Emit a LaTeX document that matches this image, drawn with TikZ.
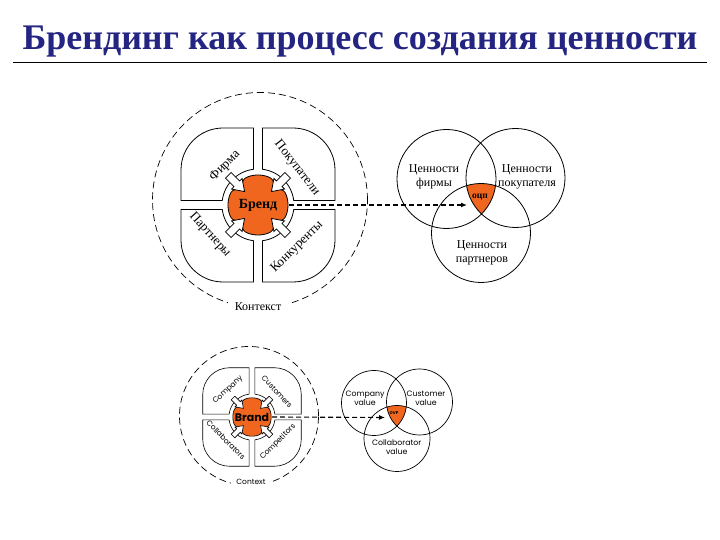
\documentclass[tikz,border=0pt]{standalone}
\usepackage{fontspec}
\setmainfont{Liberation Serif}
\newfontfamily\pop{Poppins}
\usetikzlibrary{arrows.meta}
\definecolor{brandorange}{RGB}{240,102,30}
\definecolor{titleblue}{RGB}{36,36,130}
\def\emblw{0.8pt}
\begin{document}
\begin{tikzpicture}[x=1pt,y=1pt,
  quad/.style={draw=black, fill=white, line width=\emblw},
  arr/.style={draw=black, fill=white, line width=\emblw},
  blob/.style={draw=black, fill=brandorange, line width=\emblw},
  ring/.style={draw=black, circle, inner sep=0pt, line width=0.7pt, dash pattern=on 7pt off 4pt},
  link/.style={draw=black, line width=1.3pt, dash pattern=on 5pt off 3pt, -{Latex[length=6pt,width=5pt]}},
  venn/.style={draw=black, line width=0.8pt},
  rulab/.style={font=\fontsize{13}{15}\selectfont, inner sep=0pt},
  ruvenn/.style={font=\fontsize{12}{13.5}\selectfont, align=center, inner sep=0pt},
  enlab/.style={font=\pop\fontsize{7.5}{9}\selectfont, inner sep=0pt},
  envenn/.style={font=\pop\fontsize{7.8}{9}\selectfont, align=center, inner sep=0pt},
  emblem/.pic={
    \foreach \a in {0,90,180,270}{
      \path[quad, rotate=\a] (4.5,35.72) -- (4.5,77) -- (35,77)
        arc[start angle=90,end angle=0,radius=42] -- (77,35) -- (77,4.5)
        -- (35.72,4.5) arc[start angle=7.18,end angle=82.82,radius=36] -- cycle;
    }
    \path[blob] plot[variable=\t, samples at={0,5,...,355}, smooth cycle]
      (\t:{30-5.5*abs(sin(2*\t))^12});
    \foreach \a in {45,135,225,315}{
      \path[arr, rotate=\a] (19,0) -- (30,7.5) -- (30,4) -- (42,4) -- (42,-4)
        -- (30,-4) -- (30,-7.5) -- cycle;
    }
  }
]
\useasboundingbox (0,0) rectangle (720,540);
\fill[white] (0,0) rectangle (720,540);

% title
\node[anchor=base, text=titleblue, font=\bfseries\fontsize{36}{40}\selectfont, inner sep=0pt]
  (title) at (360,490.7) {Брендинг как процесс создания ценности};
\coordinate (ruleL) at (13,477.7);
\coordinate (ruleR) at (707,477.7);
\draw[line width=1pt] (ruleL) -- (ruleR);

% ===== top (Russian) =====
\node[ring, minimum size=215pt] (ctx1) at (260,340) {};
\node[fill=white, inner xsep=7pt, inner ysep=2pt, font=\fontsize{12}{14}\selectfont] (ctxlbl1) at (258,233) {Контекст};
\def\emblw{0.8pt}
\pic at (258,335) {emblem};
\node[circle, minimum size=62pt, inner sep=0pt, font=\bfseries\fontsize{14}{16}\selectfont] (brand1) at (258,335) {Бренд};
\node[rulab, rotate=45] (q1a) at (225,374) {Фирма};
\node[rulab, rotate=-52] (q1b) at (297,372) {Покупатели};
\node[rulab, rotate=-48] (q1c) at (210,305) {Партнеры};
\node[rulab, rotate=45] (q1d) at (297,293) {Конкуренты};

\coordinate (vf) at (446.5,361);
\coordinate (vp) at (515.5,362);
\coordinate (vq) at (481,307);
\begin{scope}
  \clip (vf) circle[radius=49.5];
  \clip (vp) circle[radius=49.5];
  \fill[brandorange] (vq) circle[radius=49.5];
\end{scope}
\node[venn, circle, minimum size=99pt, inner sep=0pt] (cf) at (vf) {};
\node[venn, circle, minimum size=99pt, inner sep=0pt] (cp) at (vp) {};
\node[venn, circle, minimum size=99pt, inner sep=0pt] (cq) at (vq) {};
\node[ruvenn] (lf) at (434,363.3) {Ценности\\фирмы};
\node[ruvenn] (lp) at (527,363.3) {Ценности\\покупателя};
\node[ruvenn] (lq) at (482,287.3) {Ценности\\партнеров};
\node[font=\bfseries\fontsize{9.5}{10}\selectfont, inner sep=0pt] (ocp) at (480,343) {оцп};
\coordinate (t1) at (467,335);
\draw[link] (brand1.east) -- (t1);

% ===== bottom (English) =====
\node[ring, minimum size=139pt] (ctx2) at (249,124) {};
\node[fill=white, inner xsep=5pt, inner ysep=2pt, font=\pop\fontsize{7.5}{9}\selectfont] (ctxlbl2) at (251,58) {Context};
\def\emblw{0.6pt}
\pic[scale=0.64] at (252,123) {emblem};
\node[circle, minimum size=40pt, inner sep=0pt, font=\pop\bfseries\fontsize{11}{12}\selectfont] (brand2) at (252,123) {Brand};
\node[enlab, rotate=43] (q2a) at (228,150) {Company};
\node[enlab, rotate=-47] (q2b) at (277,148) {Customers};
\node[enlab, rotate=-45] (q2c) at (226,100) {Collaborators};
\node[enlab, rotate=45] (q2d) at (278,98) {Competitors};

\coordinate (wf) at (374,137);
\coordinate (wp) at (419.5,138);
\coordinate (wq) at (397,101.5);
\begin{scope}
  \clip (wf) circle[radius=32.5];
  \clip (wp) circle[radius=33];
  \fill[brandorange] (wq) circle[radius=33];
\end{scope}
\node[venn, circle, minimum size=65pt, inner sep=0pt, line width=0.7pt] (df) at (wf) {};
\node[venn, circle, minimum size=66pt, inner sep=0pt, line width=0.7pt] (dp) at (wp) {};
\node[venn, circle, minimum size=66pt, inner sep=0pt, line width=0.7pt] (dq) at (wq) {};
\node[envenn] (mf) at (365,141.5) {Company\\value};
\node[envenn] (mp) at (426,141.5) {Customer\\value};
\node[envenn] (mq) at (396.7,93.3) {Collaborator\\value};
\node[font=\pop\bfseries\fontsize{4}{5}\selectfont, inner sep=0pt] (ovp) at (394,126.5) {OVP};
\coordinate (t2) at (385,122.5);
\draw[link, line width=1.1pt] (brand2.east) -- (t2);
\end{tikzpicture}
\end{document}
